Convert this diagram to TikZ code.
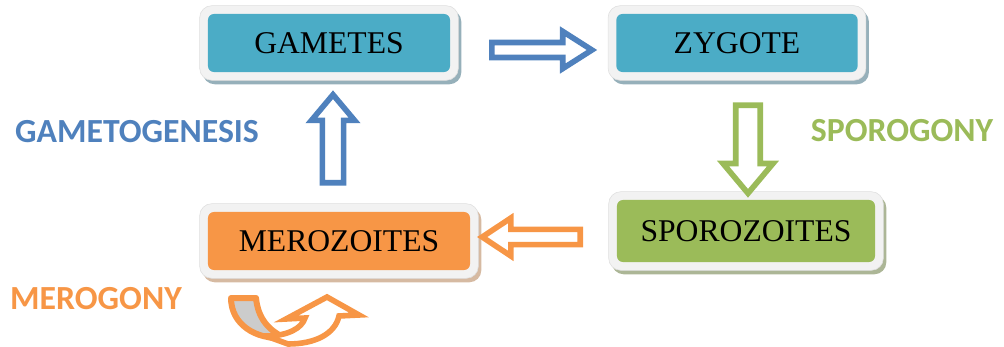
\documentclass[tikz,border=0pt]{standalone}
\usepackage{fontspec}
\setmainfont{Liberation Serif}
\newfontfamily\labelfont{Carlito}
\usetikzlibrary{shapes.arrows, backgrounds, positioning, calc}
\definecolor{myteal}{RGB}{75,172,198}
\definecolor{mygreen}{RGB}{155,187,89}
\definecolor{myorange}{RGB}{247,150,70}
\definecolor{myblue}{RGB}{79,129,189}
\definecolor{framegray}{RGB}{242,242,242}
\definecolor{tealshadow}{RGB}{150,176,186}
\definecolor{greenshadow}{RGB}{172,182,150}
\definecolor{orangeshadow}{RGB}{214,186,162}
\definecolor{backgray}{RGB}{204,204,204}

\begin{document}
\begin{tikzpicture}[x=0.025cm, y=-0.025cm,
    stage/.style={rectangle, rounded corners=0.15cm, minimum height=1.45cm, inner sep=0pt,
                  font=\fontsize{22.5}{26}\selectfont},
    blockarrow/.style={single arrow, draw=#1, fill=white, line width=0.14cm, inner sep=0pt},
    steplabel/.style={font=\labelfont\bfseries\fontsize{24}{28}\selectfont}]
    \useasboundingbox (0,0) rectangle (1004,347);

    % stages
    \node[stage, fill=myteal, minimum width=6.05cm] (gametes) at (329,43) {GAMETES};
    \node[stage, fill=myteal, minimum width=6.03cm] (zygote) at (737,43) {ZYGOTE};
    \node[stage, fill=mygreen, minimum width=6.45cm, minimum height=1.55cm] (sporozoites) at (746,231) {SPOROZOITES};
    \node[stage, fill=myorange, minimum width=6.55cm] (merozoites) at (339,241) {MEROZOITES};

    % frames with shadow
    \begin{scope}[on background layer]
        \foreach \n/\c in {gametes/tealshadow, zygote/tealshadow, sporozoites/greenshadow, merozoites/orangeshadow} {
            \fill[\c, rounded corners=0.3cm] ([shift={(-5,-4)}]\n.north west) rectangle ([shift={(11,12)}]\n.south east);
            \draw[gray!25, fill=framegray, rounded corners=0.3cm] ([shift={(-8,-8)}]\n.north west) rectangle ([shift={(8,8)}]\n.south east);
        }
    \end{scope}

    % block arrows
    \node[blockarrow=myblue, minimum height=2.5cm, minimum width=0.93cm, inner ysep=0.1cm,
          single arrow tip angle=65] (g2z) at (536,50) {};
    \node[blockarrow=mygreen, shape border rotate=270, minimum height=2.2cm, minimum width=1.25cm,
          inner sep=0.17cm, single arrow tip angle=80] (z2s) at (748,142) {};
    \node[blockarrow=myorange, shape border rotate=180, minimum height=2.45cm, minimum width=0.95cm,
          inner ysep=0.1cm, single arrow tip angle=67] (s2m) at (537,237) {};
    \node[blockarrow=myblue, shape border rotate=90, minimum height=2.2cm, minimum width=1.08cm,
          inner sep=0.17cm, single arrow tip angle=80] (m2g) at (333,145) {};

    % curved arrow under merozoites
    \filldraw[fill=backgray, draw=myorange, line width=0.15cm, line join=round]
        (231,298) -- (256,298) .. controls (258,318) and (268,330) .. (285,338)
        .. controls (255,340) and (231,324) .. cycle;
    \filldraw[fill=white, draw=myorange, line width=0.14cm, line join=miter]
        (266,336) .. controls (288,336) and (302,328) .. (305,318) -- (286,319) -- (327,297)
        -- (359,315) -- (339,316) .. controls (335,334) and (315,344) .. (288,344) -- cycle;

    % labels
    \node[steplabel, text=myblue] (gametogenesis) at (137,132) {GAMETOGENESIS};
    \node[steplabel, text=mygreen] (sporogony) at (902,131) {SPOROGONY};
    \node[steplabel, text=myorange] (merogony) at (96,299) {MEROGONY};
\end{tikzpicture}
\end{document}
